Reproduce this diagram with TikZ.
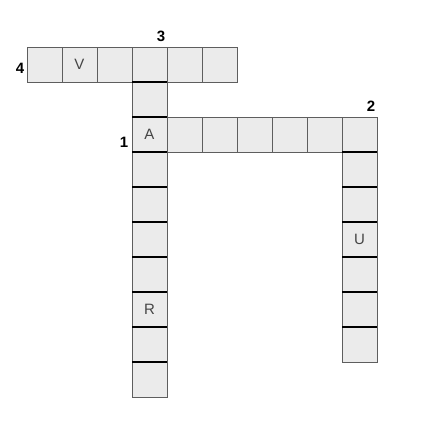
\documentclass[tikz,border=0pt]{standalone}
\usepackage{fontspec}
\setmainfont{Liberation Sans}
\definecolor{cellfill}{HTML}{EBEBEB}
\definecolor{cellline}{HTML}{5E5E5E}
\definecolor{lettercol}{HTML}{454545}
\tikzset{
  cellbox/.style={draw=cellline, fill=cellfill, line width=1pt, minimum size=35pt, inner sep=0pt, outer sep=0pt, font=\fontsize{15}{15}\selectfont, text=lettercol},
  numlabel/.style={font=\bfseries\fontsize{15}{15}\selectfont, text=black, inner sep=0pt},
  sepline/.style={draw=black, line width=1.4pt}
}
\newcommand{\xcell}[4]{\node[cellbox] (#1) at ({44.5+35*#2},{64.5+35*#3}) {#4};}
\begin{document}
\begin{tikzpicture}[x=1pt,y=-1pt]
\useasboundingbox (0,0) rectangle (421,423);
% across 4 (row 0)
\xcell{a0}{0}{0}{}
\xcell{a1}{1}{0}{V}
\xcell{a2}{2}{0}{}
\xcell{a3}{3}{0}{}
\xcell{a4}{4}{0}{}
\xcell{a5}{5}{0}{}
% down 3 (column 3)
\xcell{d1}{3}{1}{}
\xcell{d2}{3}{2}{A}
\xcell{d3}{3}{3}{}
\xcell{d4}{3}{4}{}
\xcell{d5}{3}{5}{}
\xcell{d6}{3}{6}{}
\xcell{d7}{3}{7}{R}
\xcell{d8}{3}{8}{}
\xcell{d9}{3}{9}{}
% across 1 (row 2)
\xcell{h4}{4}{2}{}
\xcell{h5}{5}{2}{}
\xcell{h6}{6}{2}{}
\xcell{h7}{7}{2}{}
\xcell{h8}{8}{2}{}
\xcell{h9}{9}{2}{}
% down 2 (column 9)
\xcell{v3}{9}{3}{}
\xcell{v4}{9}{4}{}
\xcell{v5}{9}{5}{U}
\xcell{v6}{9}{6}{}
\xcell{v7}{9}{7}{}
\xcell{v8}{9}{8}{}
% separators in down words
\foreach \n in {a3,d1,d2,d3,d4,d5,d6,d7,d8,h9,v3,v4,v5,v6,v7}{
  \draw[sepline] (\n.south west) -- (\n.south east);
}
% numbers
\node[numlabel] (n4) at (20,68) {4};
\node[numlabel] (n3) at (161,36) {3};
\node[numlabel] (n1) at (124,142) {1};
\node[numlabel] (n2) at (371,106) {2};
\end{tikzpicture}
\end{document}
